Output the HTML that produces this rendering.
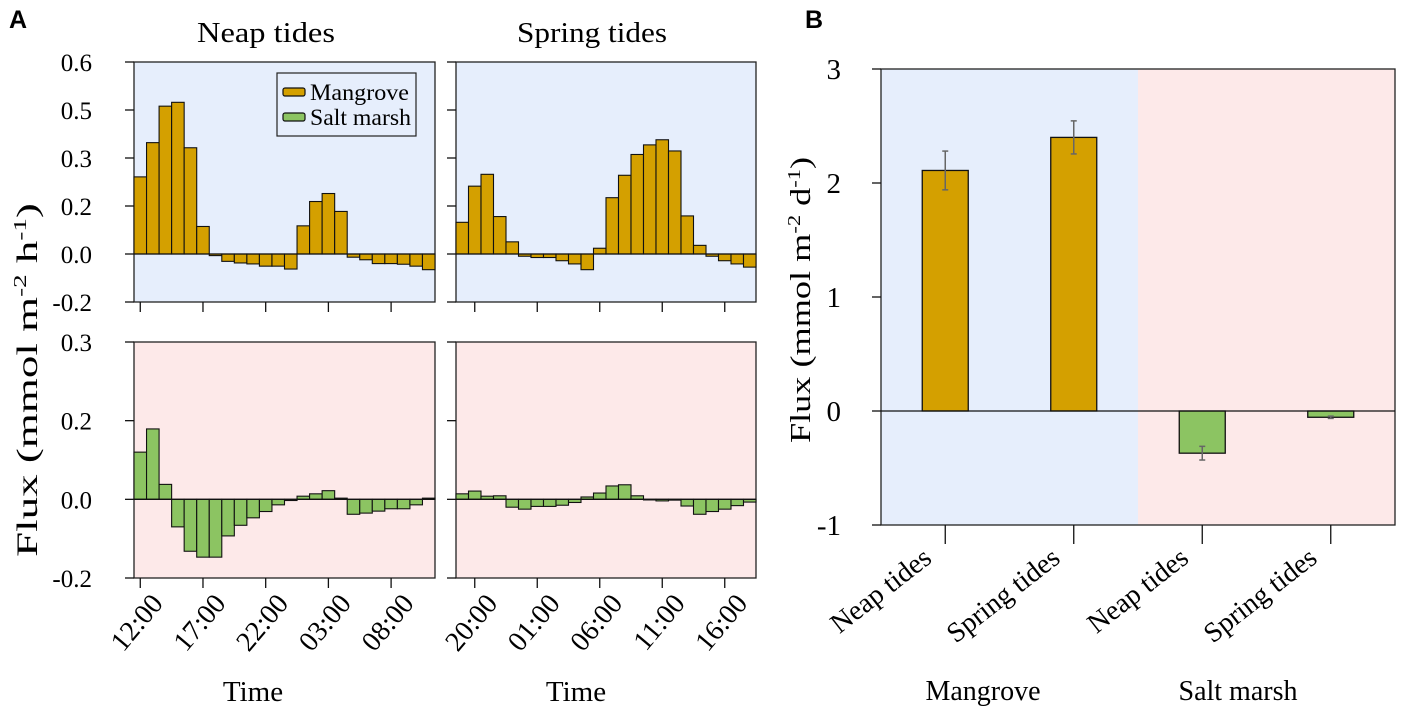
<!DOCTYPE html>
<html><head><meta charset="utf-8"><style>
html,body{margin:0;padding:0;background:#fff;}
svg{display:block;font-family:"Liberation Serif",serif;}
</style></head><body>
<svg id="fig" width="1417" height="714" viewBox="0 0 1417 714" xmlns="http://www.w3.org/2000/svg"></svg>
<script>
// ---- Data ----
const neapMangrove = [0.241,0.348,0.462,0.474,0.332,0.086,-0.005,-0.023,-0.028,-0.031,-0.038,-0.038,-0.047,0.088,0.164,0.189,0.133,-0.010,-0.018,-0.030,-0.030,-0.032,-0.038,-0.049];
const springMangrove = [0.099,0.212,0.249,0.117,0.038,-0.007,-0.011,-0.011,-0.021,-0.031,-0.049,0.018,0.176,0.246,0.311,0.341,0.357,0.322,0.119,0.027,-0.007,-0.021,-0.031,-0.041];
const neapSaltMarsh = [0.120,0.179,0.038,-0.070,-0.132,-0.147,-0.147,-0.093,-0.066,-0.047,-0.031,-0.014,-0.003,0.008,0.014,0.022,0.003,-0.038,-0.035,-0.030,-0.024,-0.024,-0.014,0.003];
const springSaltMarsh = [0.014,0.021,0.008,0.009,-0.020,-0.025,-0.018,-0.018,-0.015,-0.008,0.006,0.016,0.034,0.037,0.009,0.000,-0.004,-0.002,-0.017,-0.038,-0.031,-0.025,-0.016,-0.007];
const neapTimeLabels = ["12:00","17:00","22:00","03:00","08:00"];
const neapTimeIdx = [0,5,10,15,20];
const springTimeLabels = ["20:00","01:00","06:00","11:00","16:00"];
const springTimeIdx = [1,6,11,16,21];
const topTickValues = [-0.15,0,0.15,0.30,0.45,0.60];
const topTickLabels = ["-0.2","0.0","0.2","0.3","0.5","0.6"];
const botTickValues = [-0.2,0,0.2,0.4];
const botTickLabels = ["-0.2","0.0","0.2","0.3"];
const bCategories = ["Neap tides","Spring tides","Neap tides","Spring tides"];
const bValues = [2.11,2.40,-0.37,-0.055];
const bErrors = [0.17,0.145,0.06,0.01];
const bTickValues = [-1,0,1,2,3];
const bTickLabels = ["-1","0","1","2","3"];

const NS="http://www.w3.org/2000/svg";
const svg=document.getElementById('fig');
const GOLD="#d4a000", GREEN="#8cc462", BLUE="#e6eefc", PINK="#fde9e9";
function mk(tag,attrs,parent){const e=document.createElementNS(NS,tag);for(const k in attrs)e.setAttribute(k,attrs[k]);(parent||svg).appendChild(e);return e;}
function txt(s,attrs,parent){const e=mk('text',attrs,parent);e.textContent=s;return e;}

function panel(o){
  const g=mk('g',{});
  
  
  const bg=mk('rect',{x:o.x0,y:o.y0,width:o.x1-o.x0,height:o.y1-o.y0,fill:o.bg,stroke:'#222','stroke-width':1.3},g);
  
  
  const ys=v=>o.y1-(v-o.dmin)/(o.dmax-o.dmin)*(o.y1-o.y0);
  const bw=(o.x1-o.x0)/o.data.length;
  const xs=i=>o.x0+i*bw;
  o.data.forEach((v,i)=>{
    const r=mk('rect',{x:xs(i),y:Math.min(ys(v),ys(0)),width:bw,height:Math.max(Math.abs(ys(v)-ys(0)),0.6),fill:o.color,stroke:'#111','stroke-width':1.1},g);
    
    
  });
  mk('line',{x1:o.x0,x2:o.x1,y1:ys(0),y2:ys(0),stroke:'#111','stroke-width':1.3},g);
  o.tickVals.forEach((v,i)=>{
    mk('line',{x1:o.x0-9,x2:o.x0,y1:ys(v),y2:ys(v),stroke:'#111','stroke-width':1.3},g);
    if(o.showY){const t=txt(o.tickLabels[i],{x:o.x0-42,y:ys(v)+9,'text-anchor':'end','font-size':25},g);
      
      }
  });
  if(o.xIdx){o.xIdx.forEach((k,i)=>{
    const cx=xs(k)+bw/2;
    mk('line',{x1:cx,x2:cx,y1:o.y1,y2:o.y1+10,stroke:'#111','stroke-width':1.3},g);
    if(o.xLabels){const t=txt(o.xLabels[i],{x:0,y:0,'text-anchor':'end','font-size':28,transform:`translate(${cx+24},${o.y1+26}) rotate(-50)`},g);
      
      }
  });}
}

panel({name:'neap-mangrove-panel',x0:134,x1:435,y0:62,y1:302,dmin:-0.15,dmax:0.6,data:neapMangrove,color:GOLD,bg:BLUE,tickVals:topTickValues,tickLabels:topTickLabels,showY:true,xIdx:neapTimeIdx});
panel({name:'spring-mangrove-panel',x0:456,x1:756,y0:62,y1:302,dmin:-0.15,dmax:0.6,data:springMangrove,color:GOLD,bg:BLUE,tickVals:topTickValues,tickLabels:topTickLabels,showY:false,xIdx:springTimeIdx});
panel({name:'neap-saltmarsh-panel',x0:134,x1:435,y0:342,y1:578,dmin:-0.2,dmax:0.4,data:neapSaltMarsh,color:GREEN,bg:PINK,tickVals:botTickValues,tickLabels:botTickLabels,showY:true,xIdx:neapTimeIdx,xLabels:neapTimeLabels});
panel({name:'spring-saltmarsh-panel',x0:456,x1:756,y0:342,y1:578,dmin:-0.2,dmax:0.4,data:springSaltMarsh,color:GREEN,bg:PINK,tickVals:botTickValues,tickLabels:botTickLabels,showY:false,xIdx:springTimeIdx,xLabels:springTimeLabels});

// Panel B
(function(){
  const x0=881,x1=1395,y0=69,y1=525,dmin=-1,dmax=3;
  const g=mk('g',{});
  
  
  const ys=v=>y1-(v-dmin)/(dmax-dmin)*(y1-y0);
  const band=(x1-x0)/bCategories.length;
  const cx=i=>x0+band*(i+0.5);
  const split=x0+band*2;
  const b1=mk('rect',{x:x0,y:y0,width:split-x0,height:y1-y0,fill:BLUE},g);
  
  
  const b2=mk('rect',{x:split,y:y0,width:x1-split,height:y1-y0,fill:PINK},g);
  
  
  mk('rect',{x:x0,y:y0,width:x1-x0,height:y1-y0,fill:'none',stroke:'#222','stroke-width':1.3},g);
  bValues.forEach((v,i)=>{
    const w=46;
    const r=mk('rect',{x:cx(i)-w/2,y:Math.min(ys(v),ys(0)),width:w,height:Math.abs(ys(v)-ys(0)),fill:i<2?GOLD:GREEN,stroke:'#111','stroke-width':1.3},g);
    
    
    const e=bErrors[i];
    const eg=mk('g',{stroke:'#666','stroke-width':1.5},g);
    
    
    mk('line',{x1:cx(i),x2:cx(i),y1:ys(v-e),y2:ys(v+e)},eg);
    mk('line',{x1:cx(i)-3,x2:cx(i)+3,y1:ys(v-e),y2:ys(v-e)},eg);
    mk('line',{x1:cx(i)-3,x2:cx(i)+3,y1:ys(v+e),y2:ys(v+e)},eg);
    mk('line',{x1:cx(i),x2:cx(i),y1:y1,y2:y1+19,stroke:'#111','stroke-width':1.3},g);
    const t=txt(bCategories[i],{x:0,y:0,'text-anchor':'end','font-size':28,transform:`translate(${cx(i)-12},${y1+36}) rotate(-38)`},g);
    
    
  });
  mk('line',{x1:x0,x2:x1,y1:ys(0),y2:ys(0),stroke:'#111','stroke-width':1.3},g);
  bTickValues.forEach((v,i)=>{
    mk('line',{x1:x0-9,x2:x0,y1:ys(v),y2:ys(v),stroke:'#111','stroke-width':1.3},g);
    const t=txt(bTickLabels[i],{x:x0-40,y:ys(v)+10,'text-anchor':'end','font-size':29},g);
    
    
  });
})();
</script>
<!-- static text & legend -->
<svg style="position:absolute;left:0;top:0" width="1417" height="714" xmlns="http://www.w3.org/2000/svg">
  <text x="9" y="28" font-family="Liberation Sans,sans-serif" font-weight="bold" font-size="25">A</text>
  <text x="805" y="28" font-family="Liberation Sans,sans-serif" font-weight="bold" font-size="25">B</text>
  <text x="266" y="42" text-anchor="middle" font-family="Liberation Serif,serif" font-size="28" textLength="138" lengthAdjust="spacingAndGlyphs">Neap tides</text>
  <text x="592" y="42" text-anchor="middle" font-family="Liberation Serif,serif" font-size="28" textLength="150" lengthAdjust="spacingAndGlyphs">Spring tides</text>
  <text x="253" y="701" text-anchor="middle" font-family="Liberation Serif,serif" font-size="29">Time</text>
  <text x="576" y="701" text-anchor="middle" font-family="Liberation Serif,serif" font-size="29">Time</text>
  <text transform="translate(37,380) rotate(-90) scale(1.5,1)" text-anchor="middle" font-family="Liberation Serif,serif" font-size="30">Flux (mmol m<tspan font-size="18" dy="-11">-2</tspan><tspan dy="11"> h</tspan><tspan font-size="18" dy="-11">-1</tspan><tspan dy="11">)</tspan></text>
  <text transform="translate(810,300) rotate(-90) scale(1.25,1)" text-anchor="middle" font-family="Liberation Serif,serif" font-size="29">Flux (mmol m<tspan font-size="18" dy="-10">-2</tspan><tspan dy="10"> d</tspan><tspan font-size="18" dy="-10">-1</tspan><tspan dy="10">)</tspan></text>
  <text x="983" y="700" text-anchor="middle" font-family="Liberation Serif,serif" font-size="28">Mangrove</text>
  <text x="1238" y="700" text-anchor="middle" font-family="Liberation Serif,serif" font-size="28">Salt marsh</text>
  <g>
    <rect x="277" y="73" width="139" height="63" fill="#e6eefc" stroke="#222" stroke-width="1.2"/>
    <rect x="283" y="88" width="22" height="8" rx="2" fill="#d4a000" stroke="#111" stroke-width="1.2"/>
    <text x="310" y="100" font-family="Liberation Serif,serif" font-size="23" textLength="99" lengthAdjust="spacingAndGlyphs">Mangrove</text>
    <rect x="283" y="113" width="22" height="8" rx="2" fill="#8cc462" stroke="#111" stroke-width="1.2"/>
    <text x="310" y="125" font-family="Liberation Serif,serif" font-size="23" textLength="101" lengthAdjust="spacingAndGlyphs">Salt marsh</text>
  </g>
</svg>
</body></html>
